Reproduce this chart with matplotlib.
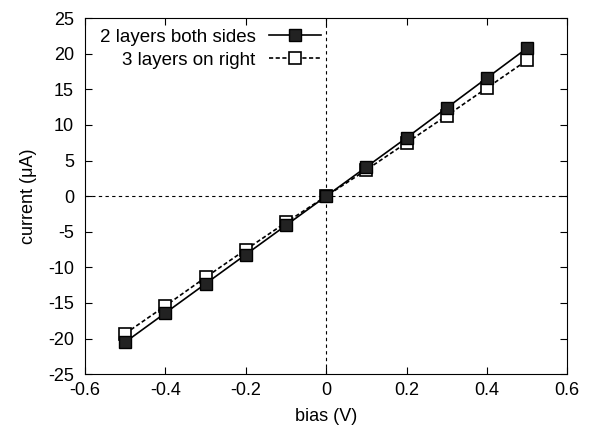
import matplotlib
matplotlib.use("Agg")
import matplotlib.pyplot as plt

plt.rcParams['font.family'] = ['Liberation Sans', 'DejaVu Sans']
plt.rcParams['axes.unicode_minus'] = False

bias = [-0.5, -0.4, -0.3, -0.2, -0.1, 0.0, 0.1, 0.2, 0.3, 0.4, 0.5]
two_layers = [-20.5, -16.4, -12.3, -8.2, -4.1, 0.0, 4.1, 8.2, 12.4, 16.6, 20.8]
three_layers = [-19.3, -15.4, -11.4, -7.5, -3.7, 0.0, 3.7, 7.5, 11.3, 15.2, 19.1]

fig = plt.figure(figsize=(6.08, 4.33), dpi=100)
ax = fig.add_axes([0.14, 0.136, 0.793, 0.822])

# zero axes, dashed
ax.axhline(0, color="black", lw=0.8, ls=(0, (3, 3)), zorder=1)
ax.axvline(0, color="black", lw=0.8, ls=(0, (3, 3)), zorder=1)

ax.plot(bias, two_layers, color="black", lw=1.2, marker="s", ms=8,
        mfc="#222222", mec="black", label="2 layers both sides", zorder=3)
ax.plot(bias, three_layers, color="black", lw=1.2, ls=(0, (2.5, 1.5)), marker="s",
        ms=8, mfc="white", mec="black", mew=1.2, label="3 layers on right", zorder=2)

ax.set_xlim(-0.6, 0.6)
ax.set_ylim(-25, 25)
ax.set_xticks([-0.6, -0.4, -0.2, 0, 0.2, 0.4, 0.6])
ax.set_xticklabels(["-0.6", "-0.4", "-0.2", "0", "0.2", "0.4", "0.6"])
ax.set_yticks(range(-25, 26, 5))
ax.tick_params(direction="in", top=True, right=True, length=5, labelsize=13)
ax.tick_params(axis="y", pad=8)
ax.tick_params(axis="x", pad=6)
ax.set_xlabel("bias (V)", fontsize=13, labelpad=6)
ax.set_ylabel("current (\u03bcA)", fontsize=13, labelpad=8)

ax.legend(loc="upper right", bbox_to_anchor=(0.49, 0.97), frameon=False,
          markerfirst=False, fontsize=13.5, handlelength=2.8, handletextpad=0.7,
          borderpad=0, borderaxespad=0, labelspacing=0.3)

fig.savefig("out.png", dpi=100)
